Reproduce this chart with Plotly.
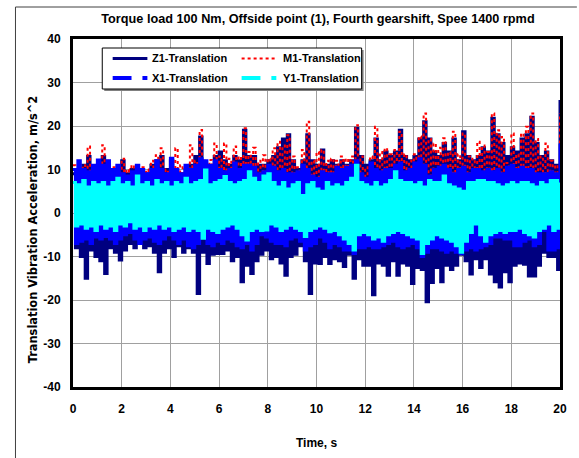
import plotly.graph_objects as go

# ---------------- data ----------------
# Sampling grid: 0.1 s steps from 0 to 20 s. Each series alternates
# between a local maximum (at 0.0, 0.2, ... 20.0 s) and a local minimum
# (at 0.1, 0.3, ... 19.9 s).
time_s = [round(i * 0.1, 1) for i in range(201)]

z1_peaks = [
    9, 10, 11, 13, 10,   11, 13, 10, 9, 10,   12, 9, 10, 9, 10,   9, 11, 12, 13, 10,
    12, 10, 9, 10, 11,   13, 17.5, 11, 10, 13,   14, 12, 11, 13, 12,   19, 13, 13, 11, 11,
    12, 13, 15, 17, 18,   12, 10, 12, 18, 12,   11, 14.5, 11, 12, 11,   12, 11, 12, 19.5, 13,
    11, 12, 17, 12, 14,   13, 14, 19, 13, 12,   13, 17, 21, 17, 14,   13, 16, 14, 17, 12,
    18.7, 13, 12, 13, 15,   14, 21.8, 18, 16, 13,   15, 14, 17, 18, 22,   16, 13, 14, 12, 11,
    26]
z1_troughs = [
    -8, -10, -15, -8.5, -10,   -11, -13.9, -8, -9, -10.8,   -8.5, -7, -8, -7, -8,
    -7.5, -9, -13.5, -9, -8,   -10, -7.5, -9, -8, -9,   -18.5, -9, -11.6, -9.5, -9.3,
    -9.3, -8.5, -11, -10, -15.8,   -12, -13.9, -11, -9.5, -8.5,   -10.5, -10, -11.5, -14.3, -10,
    -9.5, -7.5, -11, -18.5, -11.5,   -11.6, -10, -11.6, -10.5, -11,   -12.3, -9.5, -15, -10.5, -12,
    -12, -18.8, -11.5, -12, -14.3,   -11, -14.3, -11.5, -12, -16.2,   -12.5, -13, -20.4, -16, -12.5,
    -15.8, -12, -13, -12, -9.5,   -11, -14, -10.5, -12.5, -10.5,   -14, -15.8, -17, -13.5, -15.8,
    -12, -11.5, -11.8, -14.5, -14.5,   -12, -9, -10, -10, -13]

m1_peaks = [
    11, 10.5, 11, 15.3, 11,   12, 15.6, 12, 10.5, 11,   12.5, 10, 11, 10, 10.5,   10, 12, 13.3, 14.9, 10,
    11, 14.9, 11, 10.5, 15.6,   12, 19.1, 12, 12.2, 16,   13, 16, 12.5, 15.3, 13,   19.5, 14, 15, 12, 13.3,
    12.5, 14.9, 16.4, 15.5, 17.9,   13, 10.5, 14.5, 21, 12,   14, 14.5, 12, 12.5, 12,   13, 12.5, 13, 20.2, 13,
    10.5, 13, 19.8, 14, 14.9,   13.5, 14.5, 18.7, 13.5, 12,   13.5, 17.6, 22.9, 17, 16,   15, 17.2, 14, 18.7, 13.5,
    18.3, 13, 12.5, 16.4, 15.5,   14, 22.9, 19, 17.5, 11.5,   18.3, 13.5, 18.3, 19.8, 22.9,   17, 13, 16, 12, 11,
    23]
m1_troughs = [
    -3, -2.5, -3.5, -3, -2.5,   -3, -3.5, -2.5, -3, -3,   -2.5, -2, -3, -3, -3.5,
    -3, -3, -2.5, -3, -3,   -3.5, -3, -2.5, -3.5, -3,   -3.5, -3.5, -3, -3.5, -3.5,
    -3, -3, -2.5, -3, -3.5,   -3.5, -3.5, -3, -3.5, -3.5,   -2.5, -3, -3.5, -3, -2.5,
    -3, -3.5, -3.5, -3.5, -3,   -3, -3, -3.5, -3.5, -3.5,   -3.5, -3.5, -3.5, -3.5, -3.5,
    -3.5, -3.5, -3.5, -3.5, -3.5,   -3.5, -3.5, -3.5, -3.5, -3.5,   -3.5, -3.5, -3.5, -3.5, -3.5,
    -3.5, -3.5, -3.5, -3.5, -3.5,   -3.5, -3.5, -2.5, -3.5, -3.5,   -3.5, -3.5, -3.5, -3.5, -3.5,
    -3.5, -3.5, -3.5, -3.5, -3.5,   -3.5, -3.5, -2.5, -3.5, -3.5]

x1_peaks = [
    10, 12, 10, 9.5, 11,   12.2, 11, 12, 10, 11,   9, 8.5, 9.5, 11, 10,   9, 10, 12, 10, 9,
    12.6, 10, 9, 11, 10,   11, 12.5, 12, 11, 12,   10, 9.5, 10, 11.5, 10,   11, 11, 10.5, 9, 9.5,
    11, 10.5, 9.5, 10, 9,   9, 9.5, 11, 10, 8.5,   8, 9.5, 9, 9, 10.5,   10, 10.5, 11, 12, 9,
    8, 11.5, 10, 9.5, 10,   10, 11, 11.5, 9.5, 10,   11.5, 12.5, 11, 8.5, 10,   10.5, 11, 10, 9, 10,
    10.5, 9, 10, 10, 9.5,   10, 9.5, 10, 9, 10.5,   11, 10, 10.5, 10, 10,   9, 9, 9, 9.5, 9,
    16]
x1_troughs = [
    -7, -6.5, -6, -7, -5.5,   -6, -5.4, -6, -7, -6,   -5, -4.5, -6, -7, -6,
    -5.5, -6.5, -7, -6, -5,   -6, -7, -6, -7.5, -8,   -7, -5.5, -7, -7.5, -6.5,
    -7, -6, -6.5, -7.5, -8,   -7, -8.5, -7, -5, -5.5,   -6.5, -7, -7, -7.5, -6,
    -5.5, -6.5, -8.5, -7.5, -7,   -5.5, -6.5, -8, -7, -7.5,   -8.5, -8.5, -9.3, -8, -8,
    -7.5, -8, -8, -7.5, -7,   -6.5, -7.5, -8, -7.5, -7,   -8, -10, -9, -8, -8,
    -8.5, -9, -8.5, -9, -9.3,   -8.5, -8, -8.5, -8, -7.5,   -7, -5.5, -5.5, -6, -6,
    -7.5, -7.5, -6.5, -6, -7.5,   -7, -4, -8.5, -8.5, -8]

y1_peaks = [
    7, 6.5, 7.5, 6, 7,   6.5, 7, 6, 7, 8,   6.5, 7, 6, 8.5, 6.5,   7, 6, 7.5, 6.5, 7,
    6, 7, 6.5, 8, 6.5,   7, 7.5, 9.9, 6.5, 7,   7.5, 8.4, 7, 6.5, 7,   7.5, 9.5, 8, 7, 8.5,
    9, 7, 6, 7, 5.5,   6.5, 7, 4, 6.5, 7,   5.5, 5, 7, 6, 6.5,   6, 7, 8, 11, 7,
    6.5, 6, 7, 6, 6.5,   7.5, 9.5, 7.5, 7, 7,   6.5, 7, 6, 7.5, 7,   7, 8.5, 6.5, 6, 5.5,
    5, 7, 7, 7.5, 7.5,   7, 7, 6.5, 6, 6.5,   7, 6.5, 7, 7, 6.5,   6, 7, 6.5, 7.5, 7.5,
    7]
y1_troughs = [
    -3, -2.5, -3.5, -3, -4,   -2.5, -3.5, -3, -4, -2.5,   -3, -2, -3.5, -3, -4,
    -3, -3.5, -2.5, -3.5, -3,   -4, -3.5, -3, -4, -3.5,   -4, -5.8, -3.5, -4, -4.5,
    -3.5, -3, -2.5, -3.5, -5,   -6.2, -4, -3.5, -4, -3.9,   -2.5, -3, -4, -3.5, -2.8,
    -3.5, -4, -5.4, -4, -3.5,   -3, -3.5, -4.3, -4, -5,   -6, -7, -8.5, -5, -4.5,
    -5, -6, -5.5, -6.5, -5,   -4.5, -4, -4.5, -5, -5.5,   -6, -9.3, -7, -6, -5,
    -5.5, -6, -6.5, -7.5, -9,   -6.5, -4.5, -2.5, -5, -6.5,   -5, -4.5, -4, -4.5, -4,
    -4, -3.5, -4.5, -5, -5.5,   -4, -3.5, -2.5, -4, -3.5]

series_names = ["Z1-Translation", "M1-Translation", "X1-Translation", "Y1-Translation"]

x_ticks = [0, 2, 4, 6, 8, 10, 12, 14, 16, 18, 20]
y_ticks = [-40, -30, -20, -10, 0, 10, 20, 30, 40]

title_text = "Torque load 100 Nm, Offside point (1), Fourth gearshift, Spee 1400 rpmd"
x_title = "Time, s"
y_title = "Translation Vibration Acceleration, m/s^2"


def interleave(peaks, troughs):
    out = []
    for p, t in zip(peaks, troughs):
        out.append(p)
        out.append(t)
    out.append(peaks[-1])
    return out


# ---------------- geometry helpers (pixels -> paper) ----------------
W, H = 579, 458
L, R, T, B = 73, 15, 39, 71
PW, PH = W - L - R, H - T - B


def px(x):
    return (x - L) / PW


def py(y):
    return (H - B - y) / PH


FONT = "Liberation Sans"
NAVY, RED, BLUE, CYAN = "#000080", "#FF0000", "#0000FF", "#00FFFF"

fig = go.Figure()
styles = [
    (z1_peaks, z1_troughs, NAVY, 3, "solid"),
    (m1_peaks, m1_troughs, RED, 2, "dot"),
    (x1_peaks, x1_troughs, BLUE, 3, "solid"),
    (y1_peaks, y1_troughs, CYAN, 3, "solid"),
]
for name, (pk, tr, col, w, dash) in zip(series_names, styles):
    fig.add_trace(go.Scatter(x=time_s, y=interleave(pk, tr), mode="lines", name=name,
                             line=dict(color=col, width=w, dash=dash, shape="hv"),
                             showlegend=False))

axis_common = dict(showgrid=True, gridcolor="#a0a0a0", gridwidth=1, zeroline=False,
                   showline=True, linecolor="black", linewidth=3, mirror=True, ticks="",
                   tickfont=dict(family=FONT, size=12, color="black", weight="bold"))
fig.update_xaxes(range=[0, 20], tickvals=x_ticks, ticktext=[str(v) for v in x_ticks],
                 ticklabelstandoff=9, **axis_common)
fig.update_yaxes(range=[-40, 40], tickvals=y_ticks, ticktext=[str(v) for v in y_ticks],
                 ticklabelstandoff=7, **axis_common)

shapes = []
# outer frame (left and top edges visible)
shapes.append(dict(type="line", xref="paper", yref="paper", x0=px(15), x1=px(15), y0=py(7), y1=py(460),
                   line=dict(color="#404040", width=1)))
shapes.append(dict(type="line", xref="paper", yref="paper", x0=px(15), x1=px(581), y0=py(7), y1=py(7),
                   line=dict(color="#404040", width=1)))
# legend box with shadow
shapes.append(dict(type="rect", xref="paper", yref="paper", x0=px(104.5), x1=px(366), y0=py(91), y1=py(50),
                   line=dict(width=0), fillcolor="#808080"))
shapes.append(dict(type="rect", xref="paper", yref="paper", x0=px(102.5), x1=px(364), y0=py(89), y1=py(48),
                   line=dict(color="black", width=1), fillcolor="white"))
r1, r2 = 58.5, 78
shapes.append(dict(type="line", xref="paper", yref="paper", x0=px(113), x1=px(148), y0=py(r1), y1=py(r1),
                   line=dict(color=NAVY, width=3)))
shapes.append(dict(type="line", xref="paper", yref="paper", x0=px(243), x1=px(278), y0=py(r1), y1=py(r1),
                   line=dict(color=RED, width=2, dash="dot")))
for x0, col in ((113, BLUE), (243, CYAN)):
    shapes.append(dict(type="line", xref="paper", yref="paper", x0=px(x0), x1=px(x0 + 19), y0=py(r2), y1=py(r2),
                       line=dict(color=col, width=4)))
    shapes.append(dict(type="line", xref="paper", yref="paper", x0=px(x0 + 30), x1=px(x0 + 35), y0=py(r2), y1=py(r2),
                       line=dict(color=col, width=4)))

ann = []
for text, x, y in ((series_names[0], 151, r1), (series_names[1], 283, r1),
                   (series_names[2], 151, r2), (series_names[3], 283, r2)):
    ann.append(dict(text="<b>%s</b>" % text, xref="paper", yref="paper", x=px(x), y=py(y),
                    xanchor="left", yanchor="middle", showarrow=False,
                    font=dict(family=FONT, size=11, color="black")))
ann.append(dict(text="<b>%s</b>" % x_title, xref="paper", yref="paper", x=px(318), y=py(443),
                xanchor="center", yanchor="middle", showarrow=False,
                font=dict(family=FONT, size=12, color="black")))
ann.append(dict(text="<b>%s</b>" % y_title, xref="paper", yref="paper", x=px(33), y=py(229),
                xanchor="center", yanchor="middle", showarrow=False, textangle=-90,
                font=dict(family="DejaVu Sans", size=11.4, color="black")))

fig.update_layout(
    width=W, height=H, margin=dict(l=L, r=R, t=T, b=B),
    paper_bgcolor="white", plot_bgcolor="white", showlegend=False,
    title=dict(text="<b>%s</b>" % title_text, x=px(320), xref="paper", xanchor="center",
               y=1 - 19 / H, yref="container", yanchor="middle",
               font=dict(family=FONT, size=12.7, color="black")),
    shapes=shapes, annotations=ann,
)

fig.write_html("out.html")
